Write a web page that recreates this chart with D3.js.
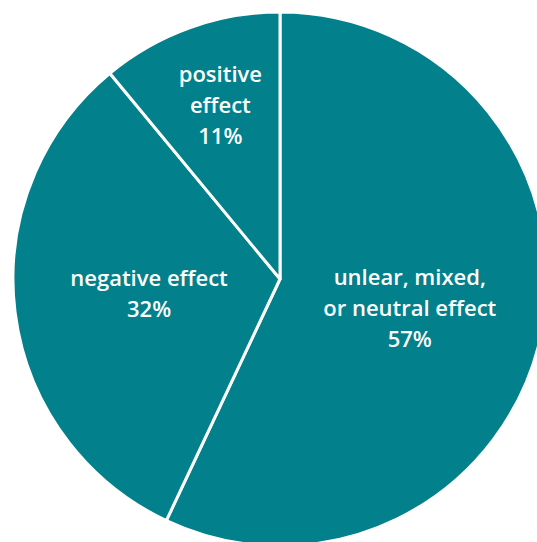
<!DOCTYPE html>
<html>
<head>
<meta charset="utf-8">
<script src="https://cdn.jsdelivr.net/npm/d3@7"></script>
<style>
  html, body { margin: 0; padding: 0; background: #fff; }
  svg { display: block; }
  .label { font-family: "Open Sans", sans-serif; font-size: 22px; font-weight: 600; fill: #fff; }
</style>
</head>
<body>
<div id="chart"></div>
<script>
const categories = ["unlear, mixed, or neutral effect", "negative effect", "positive effect"];
const shares = [57, 32, 11];
const labelLines = [
  ["unlear, mixed,", "or neutral effect", "57%"],
  ["negative effect", "32%"],
  ["positive", "effect", "11%"]
];

const width = 537, height = 542;
const cx = 280, cy = 279, radius = 267;

const svg = d3.select("#chart")
  .append("svg")
  .attr("width", width)
  .attr("height", height);

const g = svg.append("g").attr("transform", `translate(${cx},${cy})`);

const pie = d3.pie().sort(null).value((d) => d);
const arcs = pie(shares);

const arc = d3.arc().innerRadius(0).outerRadius(radius);

g.selectAll(".slice")
  .data(arcs)
  .enter()
  .append("path")
  .attr("class", "slice")
  .attr("d", arc)
  .attr("fill", "#02808b")
  .attr("stroke", "#fff")
  .attr("stroke-width", 3)
  .attr("stroke-linejoin", "round");

// label radius per slice (small slice labels sit further out)
const labelR = [133, 132, 185];
const lineH = 31;

arcs.forEach((a, i) => {
  const c = d3.arc().innerRadius(labelR[i]).outerRadius(labelR[i]).centroid(a);
  const x = c[0] + (i === 2 ? 3 : 0);
  const lines = labelLines[i];
  const t = g.append("text")
    .attr("class", "label")
    .attr("text-anchor", "middle")
    .attr("x", x)
    .attr("y", c[1] - (lines.length - 1) * lineH / 2 - (i === 1 ? 2 : 0));
  lines.forEach((s, j) => {
    t.append("tspan")
      .attr("x", x)
      .attr("dy", j === 0 ? "0.35em" : lineH)
      .text(s);
  });
});
</script>
</body>
</html>
